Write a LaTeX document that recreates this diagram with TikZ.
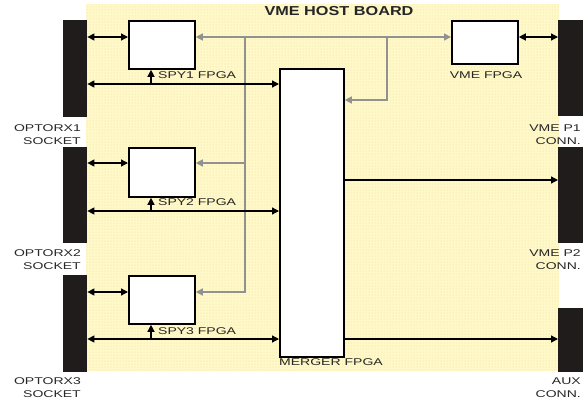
\documentclass[tikz,border=0pt]{standalone}
\usepackage{fontspec}
\setmainfont{Liberation Sans}[FakeStretch=1.43]
\newfontfamily\titlefont{Liberation Sans}[FakeStretch=1.25]
\usetikzlibrary{arrows.meta,patterns}
\definecolor{boardyellow}{RGB}{255,248,200}
\definecolor{dotcol}{RGB}{235,222,160}
\definecolor{sockcol}{RGB}{32,28,28}
\definecolor{graycon}{RGB}{145,145,145}
\tikzset{
  board/.style={draw=none, fill=boardyellow},
  fpga/.style={draw=black, line width=1.8pt, fill=white, inner sep=0pt, anchor=north west},
  sock/.style={draw=none, fill=sockcol, inner sep=0pt, anchor=north west},
  lbl/.style={inner sep=0pt, font=\fontsize{9.8}{13}\selectfont, text=black!85},
  blk/.style={draw=black, line width=1.3pt},
  gry/.style={draw=graycon, line width=1.3pt},
  tip/.style={-{Triangle[length=7pt,width=7pt]}},
  dtip/.style={{Triangle[length=7pt,width=7pt]}-{Triangle[length=7pt,width=7pt]}},
}
\begin{document}
\begin{tikzpicture}[x=1pt,y=-1pt]
\useasboundingbox (0,0) rectangle (584,400);
% board
\fill[board] (86,4) rectangle (559,371);
\fill[pattern=dots, pattern color=dotcol] (86,4) rectangle (559,371);
\node[inner sep=0pt, font=\titlefont\fontsize{13}{15}\selectfont\bfseries, text=black!85] (title) at (339,11) {VME HOST BOARD};
% sockets
\node[sock, minimum width=24pt, minimum height=97pt] (s1) at (63,20) {};
\node[sock, minimum width=24pt, minimum height=96pt] (s2) at (63,147) {};
\node[sock, minimum width=24pt, minimum height=97pt] (s3) at (63,275) {};
\node[sock, minimum width=25pt, minimum height=96pt] (p1) at (558,20) {};
\node[sock, minimum width=25pt, minimum height=96pt] (p2) at (558,147) {};
\node[sock, minimum width=25pt, minimum height=64pt] (aux) at (558,308) {};
% fpgas
\node[fpga, minimum width=66pt, minimum height=48pt] (spy1) at (128,20) {};
\node[fpga, minimum width=66pt, minimum height=49pt] (spy2) at (128,147) {};
\node[fpga, minimum width=66pt, minimum height=48pt] (spy3) at (128,275) {};
\node[fpga, minimum width=66pt, minimum height=43pt] (vme) at (451,20) {};
\node[fpga, minimum width=64pt, minimum height=288pt] (merger) at (279,68) {};
% labels
\node[lbl, anchor=west] (spy1l) at (158,75) {SPY1 FPGA};
\node[lbl, anchor=west] (spy2l) at (158,202) {SPY2 FPGA};
\node[lbl, anchor=west] (spy3l) at (158,331) {SPY3 FPGA};
\node[lbl] (vmel) at (486,75) {VME FPGA};
\node[lbl, anchor=west] (mergerl) at (279,362) {MERGER FPGA};
\node[lbl, anchor=east, align=right] (s1l) at (81,134.5) {OPTORX1\\SOCKET};
\node[lbl, anchor=east, align=right] (s2l) at (81,260) {OPTORX2\\SOCKET};
\node[lbl, anchor=east, align=right] (s3l) at (81,388) {OPTORX3\\SOCKET};
\node[lbl, anchor=east, align=right] (p1l) at (581,134.5) {VME P1\\CONN.};
\node[lbl, anchor=east, align=right] (p2l) at (581,260) {VME P2\\CONN.};
\node[lbl, anchor=east, align=right] (auxl) at (581,388) {AUX\\CONN.};
% row / column coordinates
\coordinate (ya) at (0,37);
\coordinate (yb) at (0,163);
\coordinate (yc) at (0,292);
\coordinate (bus1) at (0,84);
\coordinate (bus2) at (0,211);
\coordinate (bus3) at (0,339);
\coordinate (yd) at (0,100);
\coordinate (ye) at (0,180);
\coordinate (yf) at (0,339);
\coordinate (up) at (151,0);
\coordinate (g1) at (245,0);
\coordinate (g2) at (387,0);
% gray connectors
\draw[gry, dtip] (spy1.east |- ya) -- (vme.west |- ya);
\draw[gry, tip] (g1 |- ya) -- (g1 |- yc) -- (spy3.east |- yc);
\draw[gry, tip] (g1 |- yb) -- (spy2.east |- yb);
\draw[gry, tip] (g2 |- ya) -- (g2 |- yd) -- (merger.east |- yd);
% black connectors
\draw[blk, dtip] (s1.east |- ya) -- (spy1.west |- ya);
\draw[blk, dtip] (s2.east |- yb) -- (spy2.west |- yb);
\draw[blk, dtip] (s3.east |- yc) -- (spy3.west |- yc);
\draw[blk, dtip] (s1.east |- bus1) -- (merger.west |- bus1);
\draw[blk, dtip] (s2.east |- bus2) -- (merger.west |- bus2);
\draw[blk, dtip] (s3.east |- bus3) -- (merger.west |- bus3);
\draw[blk, tip] (up |- bus1) -- (spy1.south -| up);
\draw[blk, tip] (up |- bus2) -- (spy2.south -| up);
\draw[blk, tip] (up |- bus3) -- (spy3.south -| up);
\draw[blk, dtip] (vme.east |- ya) -- (p1.west |- ya);
\draw[blk, tip] (merger.east |- ye) -- (p2.west |- ye);
\draw[blk, tip] (merger.east |- yf) -- (aux.west |- yf);
\end{tikzpicture}
\end{document}
